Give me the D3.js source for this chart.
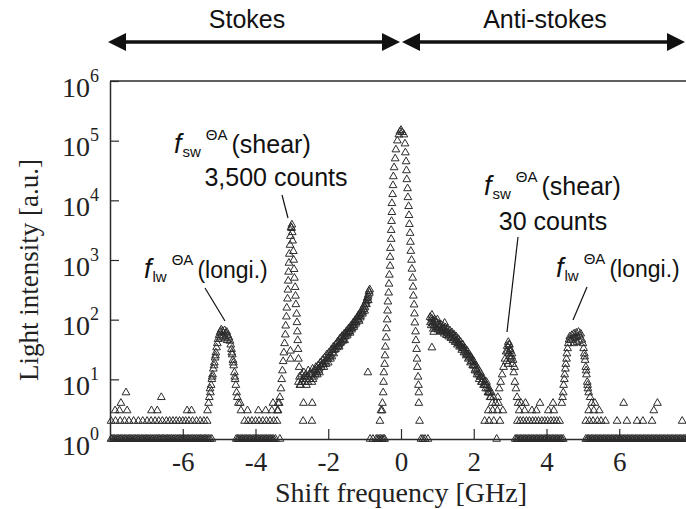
<!DOCTYPE html>
<html>
<head>
<meta charset="utf-8">
<script src="https://cdn.jsdelivr.net/npm/d3@7"></script>
<style>
  body { margin: 0; background: #fff; }
  svg { display: block; }
</style>
</head>
<body>
<div id="graph"></div>
<script>
// ---- data (shift in GHz, counts) ----
// low count rows, read as x positions only
const oneCount = [-7.97, -7.94, -7.9, -7.87, -7.83, -7.79, -7.76, -7.72, -7.69, -7.65, -7.61, -7.58, -7.54, -7.5,
  -7.47, -7.43, -7.4, -7.36, -7.32, -7.29, -7.25, -7.22, -7.18, -7.14, -7.11, -7.07, -7.03, -7.0, -6.96, -6.93, -6.89,
  -6.85, -6.82, -6.78, -6.74, -6.71, -6.67, -6.64, -6.6, -6.56, -6.53, -6.49, -6.45, -6.42, -6.38, -6.35, -6.31, -6.27,
  -6.24, -6.2, -6.16, -6.13, -6.09, -6.06, -6.02, -5.98, -5.95, -5.91, -5.87, -5.84, -5.8, -5.77, -5.73, -5.69, -5.66,
  -5.62, -5.58, -5.55, -5.51, -5.48, -5.44, -5.4, -5.37, -5.33, -5.29, -5.25, -5.2,
  -4.53, -4.49, -4.46, -4.42, -4.38, -4.35, -4.31, -4.27, -4.24, -4.2, -4.16, -4.13, -4.09, -4.05, -4.02, -3.98, -3.94,
  -3.91, -3.87, -3.83, -3.8, -3.76, -3.72, -3.69, -3.65, -3.61, -3.58, -3.54, -3.5, -3.45, -3.33,
  -0.85, -0.77, -0.68, -0.64, -0.6, -0.56, -0.52, -0.48, -0.45,
  0.55, 0.6, 0.66, 0.74, 2.63,
  3.14, 3.18, 3.21, 3.25, 3.29, 3.32, 3.36, 3.4, 3.43, 3.47, 3.51, 3.54, 3.58, 3.62, 3.65, 3.69, 3.73, 3.76, 3.8, 3.84,
  3.87, 3.91, 3.95, 3.98, 4.02, 4.06, 4.09, 4.13, 4.17, 4.2, 4.24, 4.28, 4.31, 4.35, 4.39, 4.42, 4.46,
  5.08, 5.12, 5.15, 5.19, 5.23, 5.26, 5.3, 5.34, 5.37, 5.41, 5.45, 5.48, 5.52, 5.56, 5.59, 5.63, 5.67, 5.7, 5.74, 5.78,
  5.81, 5.85, 5.89, 5.92, 5.96, 6.0, 6.03, 6.07, 6.11, 6.14, 6.18, 6.22, 6.25, 6.29, 6.33, 6.36, 6.4, 6.44, 6.47, 6.51,
  6.55, 6.58, 6.62, 6.66, 6.69, 6.73, 6.77, 6.8, 6.84, 6.88, 6.91, 6.95, 6.99, 7.02, 7.06, 7.1, 7.13, 7.17, 7.21, 7.24,
  7.28, 7.32, 7.35, 7.39, 7.43, 7.46, 7.5, 7.54, 7.57, 7.61, 7.65, 7.68, 7.72, 7.76, 7.79, 7.83, 7.87];
const twoCount = [-7.97, -7.85, -7.72, -7.6, -7.48, -7.35, -7.22, -7.1, -6.98, -6.87,
  -6.76, -6.66, -6.56, -6.45, -6.36, -6.27, -6.18, -6.09, -6.0, -5.92, -5.83, -5.73, -5.62, -5.52, -5.42, -5.33,
  -4.3, -4.2, -4.1, -4.0, -3.9, -3.8, -3.7, -3.6, -3.5, -2.69, -2.45,
  2.3, 2.42, 2.55, 2.72,
  3.2, 3.28, 3.36, 3.45, 3.53, 3.62, 3.7, 3.78, 3.87, 3.95, 4.03, 4.12, 4.2, 4.28, 4.36,
  5.08, 5.18, 5.28, 5.4, 5.5, 5.62, 5.94, 6.21, 6.49, 6.65, 6.9, 7.73];
const threeCount = [-7.86, -7.74, -7.53, -6.86, -6.7, -5.88, -5.76, -4.4, -4.22, -3.92, -3.72, -3.55, -3.4,
  2.4, 2.52, 2.65, 2.8, 3.25, 3.4, 3.6, 3.72, 4.05, 4.2, 5.16, 5.3, 5.45, 6.95];
const fourCount = [-7.7, -4.42, -3.52, -3.38, 2.68, 3.3, 3.42, 3.82, 4.18, 5.33, 6.12, 7.05];
const scattered = [[-7.56, 6], [-6.59, 5], [-2.68, 4], [-2.44, 4], [-0.91, 13], [0.85, 34]];

// Stokes side
const stokesLongi = [[-5.32, 3], [-5.29, 4], [-5.27, 5], [-5.25, 7], [-5.24, 6], [-5.22, 8], [-5.2, 10], [-5.19, 11],
  [-5.18, 12], [-5.16, 15], [-5.14, 17], [-5.13, 19], [-5.11, 23], [-5.1, 25], [-5.09, 28], [-5.07, 34], [-5.05, 40],
  [-5.03, 47], [-5.0, 55], [-4.97, 62], [-4.96, 50], [-4.94, 68], [-4.91, 64], [-4.9, 52], [-4.88, 60], [-4.85, 66],
  [-4.84, 48], [-4.82, 58], [-4.79, 62], [-4.78, 45], [-4.76, 54], [-4.73, 50], [-4.7, 44], [-4.68, 38], [-4.66, 32],
  [-4.65, 28], [-4.64, 26], [-4.62, 21], [-4.61, 19], [-4.6, 17], [-4.58, 13], [-4.57, 11], [-4.56, 10], [-4.54, 8],
  [-4.52, 6], [-4.5, 5], [-4.47, 4]];
const stokesShear = [[-3.41, 2], [-3.38, 3], [-3.35, 4], [-3.33, 5], [-3.3, 7], [-3.28, 10], [-3.26, 14], [-3.24, 20],
  [-3.22, 28], [-3.2, 40], [-3.18, 56], [-3.17, 79], [-3.15, 112], [-3.14, 158], [-3.12, 224], [-3.11, 316], [-3.1, 447],
  [-3.09, 631], [-3.08, 891], [-3.07, 1260], [-3.05, 1780], [-3.04, 2510], [-3.02, 3550], [-3.01, 3400], [-3.0, 3900],
  [-2.99, 2900], [-2.98, 2100], [-2.96, 1400], [-2.95, 1000], [-2.94, 700], [-2.93, 500], [-2.91, 350], [-2.9, 250],
  [-2.89, 180], [-2.87, 125], [-2.86, 90], [-2.85, 63], [-2.84, 45], [-2.83, 32], [-2.82, 22], [-2.8, 16],
  [-3.04, 30], [-3.04, 22]];
const stokesRamp = [[-2.82, 9], [-2.79, 11], [-2.76, 8], [-2.73, 12], [-2.7, 10], [-2.67, 13], [-2.64, 9], [-2.61, 12],
  [-2.6, 8], [-2.58, 11], [-2.55, 14], [-2.52, 10], [-2.49, 13], [-2.46, 12], [-2.45, 9], [-2.43, 15], [-2.4, 11],
  [-2.37, 14], [-2.34, 16], [-2.31, 13], [-2.3, 12], [-2.28, 17], [-2.25, 15], [-2.22, 19], [-2.19, 16], [-2.16, 21],
  [-2.13, 18], [-2.1, 23], [-2.07, 20], [-2.04, 26], [-2.01, 22], [-2.0, 19], [-1.98, 28], [-1.95, 25], [-1.92, 31],
  [-1.9, 24], [-1.89, 28], [-1.86, 35], [-1.83, 31], [-1.8, 38], [-1.77, 34], [-1.74, 43], [-1.71, 38], [-1.7, 35],
  [-1.68, 48], [-1.65, 42], [-1.62, 53], [-1.59, 47], [-1.56, 58], [-1.55, 45], [-1.53, 52], [-1.5, 64], [-1.47, 58],
  [-1.44, 71], [-1.41, 64], [-1.4, 60], [-1.38, 78], [-1.35, 72], [-1.32, 88], [-1.3, 75], [-1.29, 80], [-1.26, 98],
  [-1.23, 90], [-1.2, 110], [-1.17, 100], [-1.15, 95], [-1.14, 125], [-1.11, 115], [-1.08, 145], [-1.05, 135],
  [-1.02, 170], [-1.0, 140], [-0.99, 160], [-0.96, 200], [-0.95, 180], [-0.93, 230], [-0.9, 260], [-0.9, 210],
  [-0.88, 300], [-0.86, 320],
  [-2.78, 8], [-2.72, 9], [-2.66, 11], [-2.62, 10], [-2.56, 9], [-2.5, 12], [-2.42, 10], [-2.36, 12], [-2.33, 14],
  [-2.27, 14], [-2.24, 13], [-2.2, 17], [-2.15, 18], [-2.12, 16], [-2.06, 18], [-2.03, 23], [-1.97, 24], [-1.94, 22],
  [-1.88, 31], [-1.85, 27], [-1.8, 32], [-1.76, 40], [-1.73, 36], [-1.67, 40], [-1.64, 50], [-1.6, 44], [-1.57, 52],
  [-1.52, 58], [-1.48, 54], [-1.45, 62], [-1.42, 70], [-1.36, 68], [-1.33, 80], [-1.28, 90], [-1.25, 85], [-1.21, 100],
  [-1.18, 115], [-1.12, 108], [-1.1, 130], [-1.06, 125], [-1.03, 150], [-0.98, 185], [-0.94, 210], [-0.91, 240],
  [-0.87, 280]];

// Rayleigh line
const rayleigh = [[-0.58, 2], [-0.55, 3], [-0.52, 3], [-0.51, 4], [-0.49, 6], [-0.48, 9], [-0.47, 13], [-0.45, 18],
  [-0.44, 25], [-0.43, 35], [-0.41, 50], [-0.4, 71], [-0.38, 100], [-0.37, 141], [-0.36, 200], [-0.34, 282],
  [-0.33, 398], [-0.32, 562], [-0.3, 794], [-0.3, 1120], [-0.29, 1580], [-0.27, 2240], [-0.27, 3160], [-0.26, 4470],
  [-0.25, 6310], [-0.25, 8910], [-0.23, 12600], [-0.22, 17800], [-0.21, 25100], [-0.19, 35500], [-0.16, 50100],
  [-0.14, 70800], [-0.1, 100000], [-0.06, 126000], [-0.03, 141000], [0, 150000], [0.03, 138000],
  [0.08, 126000], [0.11, 89100], [0.12, 63100], [0.14, 44700], [0.15, 31600], [0.16, 22400], [0.18, 15800],
  [0.19, 11200], [0.21, 7940], [0.22, 5620], [0.23, 3980], [0.25, 2820], [0.26, 2000], [0.27, 1410], [0.29, 1000],
  [0.3, 708], [0.32, 501], [0.33, 355], [0.34, 251], [0.36, 178], [0.37, 126], [0.38, 89], [0.4, 63], [0.41, 45],
  [0.43, 32], [0.44, 22], [0.45, 16], [0.47, 11], [0.48, 8], [0.49, 6], [0.49, 4], [0.51, 2]];

// anti-Stokes side
const antiRamp = [[0.8, 110], [0.83, 80], [0.85, 120], [0.86, 95], [0.89, 70], [0.9, 62], [0.92, 100], [0.95, 75],
  [0.98, 90], [1.0, 100], [1.01, 68], [1.04, 85], [1.07, 64], [1.1, 82], [1.12, 72], [1.13, 62], [1.16, 78], [1.19, 58],
  [1.2, 88], [1.22, 74], [1.25, 55], [1.28, 70], [1.3, 60], [1.31, 52], [1.34, 66], [1.37, 49], [1.4, 61], [1.42, 54],
  [1.43, 45], [1.46, 56], [1.49, 42], [1.52, 52], [1.55, 38], [1.58, 47], [1.6, 40], [1.61, 35], [1.64, 42], [1.67, 31],
  [1.7, 38], [1.73, 28], [1.75, 30], [1.76, 33], [1.79, 25], [1.82, 30], [1.85, 22], [1.88, 26], [1.9, 24], [1.91, 19],
  [1.94, 23], [1.97, 17], [2.0, 20], [2.03, 14], [2.05, 15], [2.06, 17], [2.09, 12], [2.12, 15], [2.15, 10], [2.18, 13],
  [2.2, 11], [2.21, 9], [2.24, 11], [2.27, 8], [2.3, 9], [2.33, 7], [2.35, 9], [2.36, 8], [2.39, 6], [2.42, 7],
  [2.45, 5], [2.48, 6], [2.51, 4], [2.54, 5],
  [0.81, 90], [0.84, 105], [0.88, 85], [0.91, 80], [0.94, 92], [0.97, 70], [1.03, 75], [1.06, 78], [1.09, 66],
  [1.15, 68], [1.18, 70], [1.24, 64], [1.27, 60], [1.33, 56], [1.36, 58], [1.39, 50], [1.45, 48], [1.48, 50],
  [1.51, 44], [1.54, 45], [1.57, 40], [1.63, 37], [1.66, 36], [1.69, 33], [1.72, 33], [1.78, 28], [1.81, 26],
  [1.84, 26], [1.87, 23], [1.93, 20], [1.96, 20], [1.99, 17], [2.02, 17], [2.08, 14], [2.11, 13], [2.14, 12],
  [2.17, 11], [2.23, 9], [2.26, 10], [2.29, 8], [2.32, 8], [2.38, 7], [2.41, 6], [2.44, 6], [2.47, 5]];
const antiShear = [[2.6, 4], [2.66, 5], [2.7, 7], [2.74, 9], [2.78, 12], [2.82, 16], [2.86, 22], [2.89, 29], [2.9, 20],
  [2.92, 36], [2.93, 30], [2.94, 18], [2.95, 42], [2.96, 27], [2.97, 38], [2.98, 38], [2.99, 24], [3.0, 32], [3.01, 30],
  [3.02, 22], [3.04, 24], [3.05, 27], [3.07, 18], [3.08, 21], [3.1, 13], [3.12, 16], [3.13, 9], [3.16, 7], [3.19, 5],
  [3.22, 4]];
const antiLongi = [[4.42, 4], [4.44, 5], [4.46, 6], [4.47, 8], [4.49, 10], [4.5, 12], [4.52, 15], [4.53, 18],
  [4.55, 22], [4.56, 27], [4.58, 33], [4.6, 40], [4.62, 46], [4.64, 52], [4.67, 45], [4.7, 55], [4.73, 48], [4.75, 40],
  [4.76, 58], [4.79, 50], [4.82, 60], [4.84, 42], [4.85, 52], [4.88, 62], [4.9, 44], [4.91, 54], [4.94, 58], [4.97, 46],
  [5.0, 40], [5.02, 33], [5.04, 27], [5.05, 24], [5.06, 21], [5.08, 16], [5.09, 14], [5.1, 12], [5.12, 9], [5.13, 8],
  [5.14, 7], [5.16, 6], [5.2, 5], [5.24, 4]];

const xTicks = [-6, -4, -2, 0, 2, 4, 6];
const yTicks = [1, 10, 100, 1000, 10000, 100000, 1000000];
const yExponents = ["0", "1", "2", "3", "4", "5", "6"];

// ---- layout ----
const width = 686;
const height = 509;
const plot = { left: 110, right: 692, top: 81, bottom: 439 };
const ink = "#2b2b2b";
const serif = "'Liberation Serif', 'Times New Roman', serif";
const sans = "'Liberation Sans', Arial, Helvetica, sans-serif";

let points = []
  .concat(oneCount.map(x => [x, 1]))
  .concat(twoCount.map(x => [x, 2]))
  .concat(threeCount.map(x => [x, 3]))
  .concat(fourCount.map(x => [x, 4]))
  .concat(scattered, stokesLongi, stokesShear, stokesRamp, rayleigh, antiRamp, antiShear, antiLongi);

let svg = d3.select('#graph')
  .append('svg')
  .attr('width', width)
  .attr('height', height);

let xScale = d3.scaleLinear()
  .domain([-8, 8])
  .range([plot.left, plot.right]);

let yScale = d3.scaleLog()
  .domain([1, 1e6])
  .range([plot.bottom, plot.top]);

// frame top line
svg.append('line')
  .attr('x1', plot.left).attr('x2', plot.right)
  .attr('y1', plot.top).attr('y2', plot.top)
  .attr('stroke', ink).attr('stroke-width', 1.5);

// x axis
let xAxis = d3.axisBottom(xScale)
  .tickValues(xTicks)
  .tickFormat(d => String(d))
  .tickSizeInner(-10)
  .tickSizeOuter(0)
  .tickPadding(13);

let gx = svg.append('g')
  .attr('transform', `translate(0, ${plot.bottom})`)
  .call(xAxis);
gx.select('.domain').attr('stroke', ink).attr('stroke-width', 1.5);
gx.selectAll('.tick line').attr('stroke', ink).attr('stroke-width', 1.2);
gx.selectAll('.tick text')
  .attr('fill', '#222')
  .style('font-family', serif)
  .style('font-size', '27px');

// y axis
let yAxis = d3.axisLeft(yScale)
  .tickValues(yTicks)
  .tickFormat('')
  .tickSizeInner(-9)
  .tickSizeOuter(0);

let gy = svg.append('g')
  .attr('transform', `translate(${plot.left}, 0)`)
  .call(yAxis);
gy.select('.domain').attr('stroke', ink).attr('stroke-width', 1.5);
gy.selectAll('.tick line').attr('stroke', ink).attr('stroke-width', 1.2);
gy.selectAll('.tick text').remove();
gy.selectAll('.tick').each(function(d, i) {
  let t = d3.select(this).append('text')
    .attr('x', -11)
    .attr('y', 15)
    .attr('text-anchor', 'end')
    .attr('fill', '#222')
    .style('font-family', serif);
  t.append('tspan').style('font-size', '28px').text('10');
  t.append('tspan').attr('dy', -15).style('font-size', '18px').text(yExponents[i]);
});

// axis titles
svg.append('text')
  .attr('x', (plot.left + plot.right) / 2)
  .attr('y', 502)
  .attr('text-anchor', 'middle')
  .attr('fill', '#222')
  .style('font-family', serif)
  .style('font-size', '28px')
  .text('Shift frequency [GHz]');

svg.append('text')
  .attr('transform', `translate(38, ${(plot.top + plot.bottom) / 2 + 10}) rotate(-90)`)
  .attr('text-anchor', 'middle')
  .attr('fill', '#222')
  .style('font-family', serif)
  .style('font-size', '27px')
  .text('Light intensity [a.u.]');

// data markers
let tri = d3.symbol().type(d3.symbolTriangle).size(26);
svg.append('g')
  .attr('class', 'markers')
  .selectAll('path')
  .data(points)
  .enter()
  .append('path')
  .attr('d', tri)
  .attr('transform', d => `translate(${xScale(d[0])}, ${yScale(d[1])})`)
  .attr('fill', 'none')
  .attr('stroke', ink)
  .attr('stroke-width', 1);

// Stokes / Anti-stokes arrows
function arrow(x1, x2, y) {
  let g = svg.append('g');
  g.append('line')
    .attr('x1', x1 + 10).attr('x2', x2 - 10)
    .attr('y1', y).attr('y2', y)
    .attr('stroke', '#111').attr('stroke-width', 3.5);
  g.append('path')
    .attr('d', `M${x1},${y} l18,-9 l0,18 Z M${x2},${y} l-18,-9 l0,18 Z`)
    .attr('fill', '#111');
}
arrow(xScale(-8) - 2, xScale(0) - 1, 42);
arrow(xScale(0) + 1, xScale(8) - 7, 42);

svg.append('text')
  .attr('x', 247).attr('y', 28)
  .attr('text-anchor', 'middle')
  .attr('fill', '#111')
  .style('font-family', sans)
  .style('font-size', '25px')
  .text('Stokes');
svg.append('text')
  .attr('x', 545).attr('y', 28)
  .attr('text-anchor', 'middle')
  .attr('fill', '#111')
  .style('font-family', sans)
  .style('font-size', '25px')
  .text('Anti-stokes');

// peak labels
function peakLabel(x, y, sub, tail, size) {
  let t = svg.append('text')
    .attr('x', x).attr('y', y)
    .attr('fill', '#111')
    .style('font-family', sans);
  t.append('tspan').style('font-size', '27px').style('font-style', 'italic').text('f');
  t.append('tspan').attr('dx', 1).attr('dy', 4).style('font-size', '15px').text(sub);
  t.append('tspan').attr('dx', 5).attr('dy', -17).style('font-size', '15px').text('ΘA');
  t.append('tspan').attr('dx', 4).attr('dy', 13).style('font-size', size + 'px').text(tail);
}
function note(x, y, s) {
  svg.append('text')
    .attr('x', x).attr('y', y)
    .attr('text-anchor', 'middle')
    .attr('fill', '#111')
    .style('font-family', sans)
    .style('font-size', '25px')
    .text(s);
}
function leader(x1, y1, x2, y2) {
  svg.append('line')
    .attr('x1', x1).attr('y1', y1)
    .attr('x2', x2).attr('y2', y2)
    .attr('stroke', '#111').attr('stroke-width', 1.2);
}

peakLabel(174, 153, 'sw', '(shear)', 25);
note(276, 186, '3,500 counts');
leader(282, 195, 288, 218);

peakLabel(144, 278, 'lw', '(longi.)', 23);
leader(205, 288, 225, 321);

peakLabel(484, 195, 'sw', '(shear)', 25);
note(553, 230, '30 counts');
leader(518, 237, 507, 332);

peakLabel(556, 277, 'lw', '(longi.)', 23);
leader(587, 287, 573, 320);
</script>
</body>
</html>
